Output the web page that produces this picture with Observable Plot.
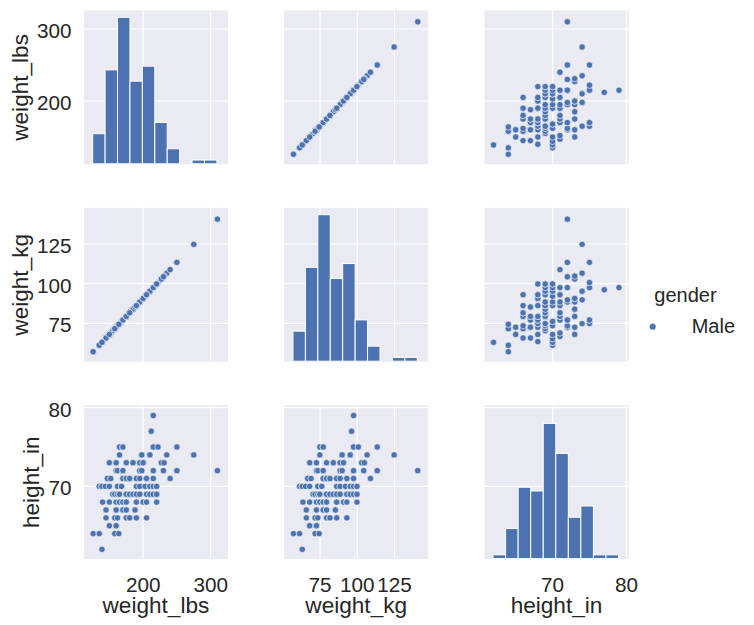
<!DOCTYPE html>
<html><head><meta charset="utf-8">
<script src="https://cdn.jsdelivr.net/npm/d3@7"></script>
<script src="https://cdn.jsdelivr.net/npm/@observablehq/plot@0.6"></script>
<style>
body{margin:0;background:#fff;}
#fig{position:relative;width:754px;height:625px;overflow:hidden;background:#fff;}
#fig svg{position:absolute;left:0;top:0;}
</style></head><body><div id="fig"></div>
<script>
// ---- data (one entry per person; 137 rows) ----
const weight_lbs = [
 215,
 212,
 165,170,170,215,215,222,250,
 165,198,198,210,210,235,275,
 150,160,175,185,185,195,200,200,227,227,231,
 160,162,170,170,195,195,198,215,215,230,250,250,310,
 147,152,170,170,175,175,180,180,190,190,195,205,205,215,240,
 135,139,139,144,150,162,168,168,190,195,203,210,210,215,220,220,
 155,158,162,165,165,175,175,175,180,180,185,190,190,195,205,210,210,215,220,220,
 140,150,160,165,165,170,170,170,175,175,175,190,190,200,200,205,205,220,
 145,160,160,170,170,175,175,188,
 145,158,158,162,175,175,180,180,190,190,205,
 150,160,160,
 126,135,158,158,164,
 139
];
const weight_kg = [
 97.52,
 96.16,
 74.84,77.11,77.11,97.52,97.52,100.70,113.40,
 74.84,89.81,89.81,95.25,95.25,106.59,124.74,
 68.04,72.57,79.38,83.91,83.91,88.45,90.72,90.72,102.97,102.97,104.78,
 72.57,73.48,77.11,77.11,88.45,88.45,89.81,97.52,97.52,104.33,113.40,113.40,140.61,
 66.68,68.95,77.11,77.11,79.38,79.38,81.65,81.65,86.18,86.18,88.45,92.99,92.99,97.52,108.86,
 61.23,63.05,63.05,65.32,68.04,73.48,76.20,76.20,86.18,88.45,92.08,95.25,95.25,97.52,99.79,99.79,
 70.31,71.67,73.48,74.84,74.84,79.38,79.38,79.38,81.65,81.65,83.91,86.18,86.18,88.45,92.99,95.25,95.25,97.52,99.79,99.79,
 63.50,68.04,72.57,74.84,74.84,77.11,77.11,77.11,79.38,79.38,79.38,86.18,86.18,90.72,90.72,92.99,92.99,99.79,
 65.77,72.57,72.57,77.11,77.11,79.38,79.38,85.28,
 65.77,71.67,71.67,73.48,79.38,79.38,81.65,81.65,86.18,86.18,92.99,
 68.04,72.57,72.57,
 57.15,61.23,71.67,71.67,74.39,
 63.05
];
const height_in = [
 79,
 77,
 75,75,75,75,75,75,75,
 74,74,74,74,74,74,74,
 73,73,73,73,73,73,73,73,73,73,73,
 72,72,72,72,72,72,72,72,72,72,72,72,72,
 71,71,71,71,71,71,71,71,71,71,71,71,71,71,71,
 70,70,70,70,70,70,70,70,70,70,70,70,70,70,70,70,
 69,69,69,69,69,69,69,69,69,69,69,69,69,69,69,69,69,69,69,69,
 68,68,68,68,68,68,68,68,68,68,68,68,68,68,68,68,68,68,
 67,67,67,67,67,67,67,67,
 66,66,66,66,66,66,66,66,66,66,66,
 65,65,65,
 64,64,64,64,64,
 62
];
const gender = ["Male"];
const variables = ["weight_lbs", "weight_kg", "height_in"];
const tickValues = {weight_lbs: [200, 300], weight_kg: [75, 100, 125], height_in: [70, 80]};

// ---- layout / style ----
const W = 754, H = 625;
const colX = [83.3, 283.6, 483.9], PW = 144.2;
const rowY = [10, 207.4, 404.8], PH = 153.8;
const domains = {weight_lbs: [112.1, 325.7], weight_kg: [50.85, 147.7], height_in: [60.76, 80.3]};
const countMax = 40.95;
const BLUE = "#4C72B0", BG = "#EAEAF2", TXT = "#262626";
const FONT = '"Liberation Sans", Arial, Helvetica, sans-serif';
const TICK_FS = 20.7, LABEL_FS = 22.6;
const ylabelDx = [-63.5, -63.5, -52.5];

const rows = weight_lbs.map((w, i) => ({weight_lbs: w, weight_kg: weight_kg[i], height_in: height_in[i], gender: gender[0]}));
const cols = {weight_lbs, weight_kg, height_in};

const fig = document.getElementById("fig");

function frameOpts(r, c) {
  return {
    width: W, height: H,
    marginLeft: colX[c], marginTop: rowY[r],
    marginRight: W - colX[c] - PW, marginBottom: H - rowY[r] - PH,
    style: {background: "transparent", overflow: "visible", fontFamily: FONT, color: TXT}
  };
}
const gridStyle = {stroke: "white", strokeOpacity: 1, strokeWidth: 1.2};

for (let r = 0; r < 3; r++) {
  for (let c = 0; c < 3; c++) {
    const xv = variables[c], yv = variables[r];
    const marks = [
      Plot.frame({fill: BG, stroke: null}),
      Plot.gridX(tickValues[xv], gridStyle),
      Plot.gridY(tickValues[yv], gridStyle)
    ];
    if (r !== c) {
      marks.push(Plot.dot(rows, {x: xv, y: yv, r: 3.2, fill: BLUE, stroke: "white", strokeWidth: 0.6}));
    }
    if (c === 0) {
      marks.push(Plot.axisY(tickValues[yv], {anchor: "left", tickSize: 0, tickPadding: 12.3, fontSize: TICK_FS, label: null, dy: 2.5}));
      marks.push(Plot.text([yv], {frameAnchor: "left", rotate: -90, dx: ylabelDx[r], fontSize: LABEL_FS, fill: TXT, textAnchor: "middle", lineAnchor: "middle"}));
    }
    if (r === 2) {
      marks.push(Plot.axisX(tickValues[xv], {anchor: "bottom", tickSize: 0, tickPadding: 18.4, fontSize: TICK_FS, label: null}));
      marks.push(Plot.text([xv], {frameAnchor: "bottom", dy: 46.5, fontSize: LABEL_FS, fill: TXT, textAnchor: "middle", lineAnchor: "middle"}));
    }
    const o = frameOpts(r, c);
    o.x = {domain: domains[xv], axis: r === 2 ? undefined : null};
    o.y = {domain: domains[yv], axis: c === 0 ? undefined : null};
    o.marks = marks;
    fig.appendChild(Plot.plot(o));

    if (r === c) {
      const vals = cols[xv];
      const [lo, hi] = d3.extent(vals);
      const edges = d3.range(1, 10).map(i => lo + i * (hi - lo) / 10);
      const bins = d3.bin().domain([lo, hi]).thresholds(edges)(vals);
      const o2 = frameOpts(r, c);
      o2.x = {domain: domains[xv], axis: null};
      o2.y = {domain: [0, countMax], axis: null};
      o2.marks = [
        Plot.rect(bins, {x1: "x0", x2: "x1", y1: 0, y2: d => d.length, fill: BLUE, stroke: "white", strokeWidth: 1})
      ];
      fig.appendChild(Plot.plot(o2));
    }
  }
}

// ---- legend ----
const leg = d3.create("svg").attr("width", W).attr("height", H)
  .style("font-family", FONT).style("overflow", "visible");
leg.append("text").attr("x", 654.3).attr("y", 302.2).attr("font-size", 20).attr("fill", TXT).text("gender");
leg.append("circle").attr("cx", 652.7).attr("cy", 326.7).attr("r", 3.4).attr("fill", BLUE).attr("stroke", "white").attr("stroke-width", 0.6);
leg.append("text").attr("x", 691.7).attr("y", 332.5).attr("font-size", 20).attr("fill", TXT).text(gender[0]);
fig.appendChild(leg.node());
</script></body></html>
